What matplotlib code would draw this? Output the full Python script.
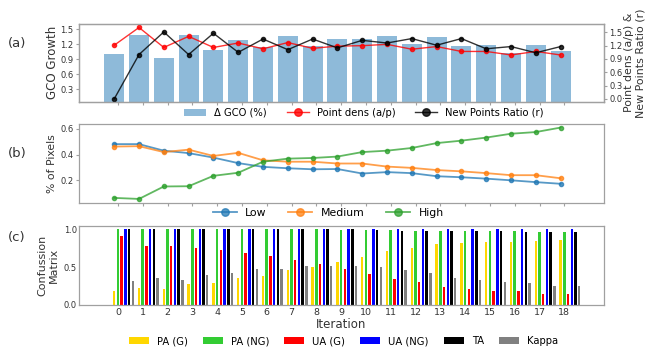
import matplotlib

matplotlib.use("Agg")

import matplotlib.pyplot as plt
import numpy as np

plt.rcParams["font.family"] = "DejaVu Sans"

# ---- data -------------------------------------------------------------
iterations = np.arange(19)

gco_growth = [1.00, 1.39, 0.93, 1.39, 1.09, 1.29, 1.15, 1.36, 1.16, 1.30,
              1.30, 1.37, 1.21, 1.34, 1.17, 1.18, 1.03, 1.19, 1.07]
point_dens = [1.21, 1.61, 1.16, 1.41, 1.16, 1.26, 1.13, 1.27, 1.14, 1.19,
              1.20, 1.23, 1.12, 1.18, 1.07, 1.07, 0.99, 1.07, 0.99]
new_points_ratio = [0.00, 1.00, 1.51, 1.00, 1.48, 1.05, 1.35, 1.11, 1.35, 1.15,
                    1.32, 1.26, 1.36, 1.21, 1.36, 1.13, 1.18, 1.04, 1.18]

low = [0.482, 0.482, 0.431, 0.412, 0.377, 0.334, 0.305, 0.294, 0.286, 0.288,
       0.253, 0.264, 0.256, 0.232, 0.224, 0.213, 0.200, 0.186, 0.173]
medium = [0.463, 0.466, 0.420, 0.439, 0.390, 0.414, 0.356, 0.345, 0.345, 0.331,
          0.331, 0.307, 0.297, 0.280, 0.270, 0.256, 0.240, 0.240, 0.216]
high = [0.063, 0.055, 0.152, 0.154, 0.235, 0.259, 0.345, 0.369, 0.374, 0.385,
        0.420, 0.431, 0.452, 0.490, 0.509, 0.533, 0.563, 0.576, 0.611]

pa_g = [0.19, 0.23, 0.21, 0.27, 0.29, 0.36, 0.38, 0.46, 0.50, 0.56,
        0.63, 0.71, 0.75, 0.80, 0.82, 0.83, 0.83, 0.84, 0.85]
pa_ng = [1.00, 1.00, 1.00, 1.00, 1.00, 1.00, 1.00, 1.00, 1.00, 0.99,
         0.99, 0.99, 0.98, 0.97, 0.97, 0.97, 0.97, 0.96, 0.96]
ua_g = [0.91, 0.78, 0.78, 0.75, 0.73, 0.68, 0.65, 0.59, 0.54, 0.48,
        0.41, 0.34, 0.30, 0.24, 0.21, 0.18, 0.18, 0.15, 0.15]
ua_ng = [1.00, 1.00, 1.00, 1.00, 1.00, 1.00, 1.00, 1.00, 1.00, 1.00,
         1.00, 1.00, 1.00, 1.00, 1.00, 1.00, 1.00, 1.00, 1.00]
ta = [1.00, 1.00, 1.00, 1.00, 1.00, 1.00, 1.00, 1.00, 1.00, 1.00,
      0.99, 0.98, 0.98, 0.97, 0.97, 0.97, 0.96, 0.96, 0.96]
kappa = [0.32, 0.36, 0.33, 0.40, 0.42, 0.47, 0.48, 0.52, 0.52, 0.52,
         0.50, 0.46, 0.42, 0.36, 0.33, 0.30, 0.29, 0.25, 0.25]

cm_labels = ["PA (G)", "PA (NG)", "UA (G)", "UA (NG)", "TA", "Kappa"]
cm_colors = ["#ffd700", "#33cc33", "red", "blue", "black", "gray"]

# ---- styling ----------------------------------------------------------
EDGE = "#a0a0a0"
TXT = "#333333"
TICK_FS = 6.0
XLIM = (-1.57, 19.6)
SHIFT = -0.15  # data sits a little left of the tick marks


def _style(ax):
    for sp in ax.spines.values():
        sp.set_color(EDGE)
        sp.set_linewidth(0.9)
    ax.tick_params(colors=EDGE, labelcolor=TXT, labelsize=TICK_FS,
                   length=2.5, width=0.8, pad=1.5)
    ax.set_xlim(*XLIM)
    ax.set_xticks(iterations)


fig = plt.figure(figsize=(6.49, 3.53), dpi=100)
L, W = 79 / 649, 525 / 649
ax_a = fig.add_axes([L, 1 - 102 / 353, W, 78.5 / 353])
ax_b = fig.add_axes([L, 1 - 202.5 / 353, W, 78.5 / 353])
ax_c = fig.add_axes([L, 1 - 305 / 353, W, 79 / 353])

# ---- (a) --------------------------------------------------------------
xa = iterations + SHIFT
bars = ax_a.bar(xa, gco_growth, width=0.8, color="#1f77b4", alpha=0.5,
                label="Δ GCO (%)")
ax_a.set_ylim(0.046, 1.62)
ax_a.set_yticks([0.3, 0.6, 0.9, 1.2, 1.5])
_style(ax_a)
ax_a.set_xticklabels([])
ax_a.set_ylabel("GCO Growth", fontsize=8.5, color=TXT)
ax_a.yaxis.set_label_coords(-0.038, 0.5)

ax_r = ax_a.twinx()
l1, = ax_r.plot(xa, point_dens, color="red", marker="o", ms=3, lw=1,
                alpha=0.8, label="Point dens (a/p)")
l2, = ax_r.plot(xa, new_points_ratio, color="black", marker="o", ms=3,
                lw=1, alpha=0.8, label="New Points Ratio (r)")
ax_r.set_ylim(-0.07, 1.70)
ax_r.set_yticks([0.0, 0.3, 0.6, 0.9, 1.2, 1.5])
_style(ax_r)
ax_r.set_ylabel("Point dens (a/p) &\nNew Points Ratio (r)", fontsize=7.9,
                color=TXT, linespacing=1.15)
ax_r.yaxis.set_label_coords(1.039, 0.5)

ax_a.legend([bars, l1, l2], [bars.get_label(), l1.get_label(), l2.get_label()],
            loc="center", bbox_to_anchor=(0.543, -0.14), ncol=3,
            frameon=False, fontsize=7.2, markerscale=1.8, handlelength=2.2)

# ---- (b) --------------------------------------------------------------
for vals, name, col in [(low, "Low", "C0"), (medium, "Medium", "C1"),
                        (high, "High", "C2")]:
    ax_b.plot(xa, vals, color=col, marker="o", ms=3, lw=1.3, alpha=0.75,
              label=name)
_style(ax_b)
ax_b.set_xticklabels([])
ax_b.set_yticks([0.2, 0.4, 0.6])
ax_b.set_ylabel("% of Pixels", fontsize=7.8, color=TXT)
ax_b.yaxis.set_label_coords(-0.042, 0.5)
ax_b.legend(loc="center", bbox_to_anchor=(0.475, -0.135), ncol=3,
            frameon=False, fontsize=7.8, markerscale=1.8, handlelength=2.2)

# ---- (c) --------------------------------------------------------------
series = [pa_g, pa_ng, ua_g, ua_ng, ta, kappa]
for k, (vals, name, col) in enumerate(zip(series, cm_labels, cm_colors)):
    ax_c.bar(iterations + SHIFT + 0.15 * k, vals, width=0.1, color=col,
             label=name)
_style(ax_c)
ax_c.set_ylim(0, 1.04)
ax_c.set_yticks([0.0, 0.5, 1.0])
ax_c.set_xticklabels([str(i) for i in iterations])
ax_c.tick_params(axis="x", labelsize=6.8, length=0, pad=2)
ax_c.tick_params(axis="y", length=0, pad=1.5)
ax_c.set_xlabel("Iteration", fontsize=8.5, color=TXT, labelpad=1)
ax_c.set_ylabel("Confussion\nMatrix", fontsize=8, color=TXT, linespacing=1.2)
ax_c.yaxis.set_label_coords(-0.038, 0.5)
ax_c.legend(loc="center", bbox_to_anchor=(0.504, -0.456), ncol=6,
            frameon=False, fontsize=7.2, handlelength=2.0, columnspacing=1.5)

# panel tags
for tag, y in [("(a)", 44), ("(b)", 153), ("(c)", 238)]:
    fig.text(8 / 649, 1 - y / 353, tag, fontsize=9.5, color=TXT, va="center")

fig.savefig("out.png", dpi=100)
